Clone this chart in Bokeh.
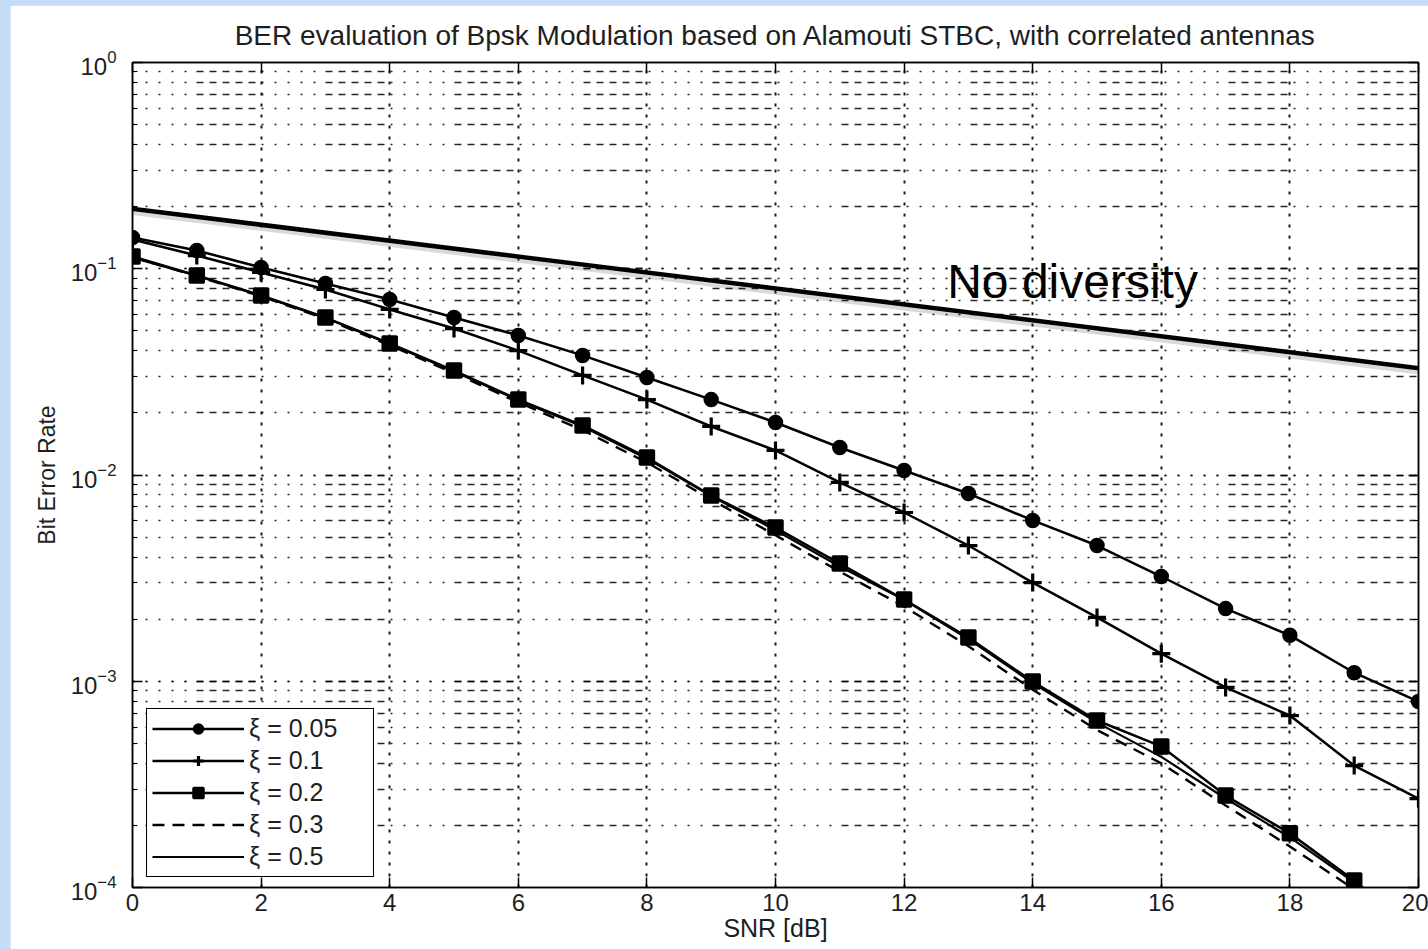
from bokeh.plotting import figure
from bokeh.models import (Range1d, FixedTicker, LogAxis, LinearAxis, Legend,
                          LegendItem, Label, Spacer)
from bokeh.layouts import column, row
from bokeh.embed import file_html
from bokeh.resources import INLINE

# ---------------- data ----------------
snr = list(range(0, 21))
ber_xi_005 = [0.1417, 0.1226, 0.1014, 0.0848, 0.0709, 0.0580, 0.0475, 0.0380,
              0.0297, 0.0232, 0.01797, 0.01359, 0.01051, 0.00813, 0.00602,
              0.00455, 0.00322, 0.00225, 0.00167, 0.00110, 0.000797]
ber_xi_01 = [0.1386, 0.1159, 0.0959, 0.0793, 0.0635, 0.0513, 0.0401, 0.0304,
             0.0232, 0.01719, 0.01315, 0.00920, 0.00658, 0.00455, 0.00301,
             0.00204, 0.00136, 0.000933, 0.000682, 0.000390, 0.000270]
ber_xi_02 = [0.1147, 0.0928, 0.0742, 0.0580, 0.0434, 0.0321, 0.0232, 0.01738,
             0.01216, 0.00795, 0.00556, 0.00372, 0.00249, 0.00163, 0.000997,
             0.000645, 0.000483, 0.000279, 0.000183, 0.000108, 0.000060]
ber_xi_03 = [0.1140, 0.0920, 0.0735, 0.0572, 0.0425, 0.0312, 0.0225, 0.0165,
             0.0115, 0.0076, 0.0051, 0.0034, 0.0023, 0.00148, 0.00091,
             0.00058, 0.00040, 0.00025, 0.000158, 0.000098, 0.000055]
ber_xi_05 = [0.1130, 0.0925, 0.0740, 0.0578, 0.0432, 0.0318, 0.0230, 0.0172,
             0.0120, 0.0079, 0.0054, 0.0036, 0.00248, 0.00160, 0.00098,
             0.00063, 0.00043, 0.00027, 0.000175, 0.000106, 0.000062]
no_div_snr = [-0.16, 20.16]
no_div_ber = [0.198, 0.0325]

series_labels = ["ξ = 0.05", "ξ = 0.1", "ξ = 0.2", "ξ = 0.3", "ξ = 0.5"]
x_ticks = [0, 2, 4, 6, 8, 10, 12, 14, 16, 18, 20]
title_text = "BER evaluation of Bpsk Modulation based on Alamouti STBC, with correlated antennas"
x_label = "SNR [dB]"
y_label = "Bit Error Rate"
note_text = "No diversity"

# ---------------- styling ----------------
FONT = "Liberation Sans"
TXT = "#1e1e1e"
BG_BLUE = "#c6dbf4"
H_DASH = "2 11 2 11 2 11 2 11 2 10 7 6 7 6 7 6 7 6 7 6"

p = figure(width=1418, height=944,
           x_range=Range1d(0, 20), y_range=Range1d(1e-4, 1),
           y_axis_type="log", output_backend="svg", toolbar_location=None,
           min_border_left=122, min_border_right=10,
           min_border_top=57, min_border_bottom=62,
           background_fill_color="white", border_fill_color="white")

p.outline_line_color = "black"
p.outline_line_width = 1.5

p.title.text = title_text
p.title.align = "center"
p.title.text_font = FONT
p.title.text_font_size = "28px"
p.title.text_font_style = "normal"
p.title.text_color = TXT
p.title.standoff = 23

# bottom axis
xa = p.xaxis[0]
xa.ticker = FixedTicker(ticks=x_ticks)
xa.axis_label = x_label
xa.axis_label_text_font = FONT
xa.axis_label_text_font_size = "25px"
xa.axis_label_text_font_style = "normal"
xa.axis_label_text_color = TXT
xa.axis_label_standoff = 0
xa.major_label_text_font = FONT
xa.major_label_text_font_size = "24px"
xa.major_label_text_color = TXT
xa.major_label_standoff = 6
xa.major_tick_in = 10
xa.major_tick_out = 0
xa.minor_tick_line_color = None
xa.axis_line_width = 1.5
xa.major_tick_line_width = 1.5

# left axis
ya = p.yaxis[0]
ya.axis_label = y_label
ya.axis_label_text_font = FONT
ya.axis_label_text_font_size = "23px"
ya.axis_label_text_font_style = "normal"
ya.axis_label_text_color = TXT
ya.axis_label_standoff = 8
ya.major_label_text_font = FONT
ya.major_label_text_font_size = "24px"
ya.major_label_text_color = TXT
ya.major_label_standoff = 16
ya.major_tick_in = 10
ya.major_tick_out = 0
ya.minor_tick_in = 5
ya.minor_tick_out = 0
ya.axis_line_width = 1.5
ya.major_tick_line_width = 1.5
ya.minor_tick_line_width = 1.2

# box ticks on right and top (labels hidden)
ra = LogAxis(major_tick_in=10, major_tick_out=0, minor_tick_in=5, minor_tick_out=0,
             major_label_text_font_size="1px", major_label_text_color=None,
             major_label_standoff=0,
             axis_line_width=1.5, major_tick_line_width=1.5, minor_tick_line_width=1.2)
p.add_layout(ra, "right")
ta = LinearAxis(ticker=FixedTicker(ticks=x_ticks), major_tick_in=10, major_tick_out=0,
                minor_tick_line_color=None, major_label_text_font_size="1px",
                major_label_text_color=None,
                major_label_standoff=0, axis_line_width=1.5, major_tick_line_width=1.5)
p.add_layout(ta, "above")

# grids
p.xgrid.grid_line_color = "black"
p.xgrid.grid_line_dash = "3 8"
p.xgrid.grid_line_width = 2.0
p.xgrid.grid_line_alpha = 0.9
p.ygrid.grid_line_color = "black"
p.ygrid.grid_line_dash = H_DASH
p.ygrid.grid_line_width = 1.6
p.ygrid.grid_line_alpha = 0.85
p.ygrid.minor_grid_line_color = "black"
p.ygrid.minor_grid_line_dash = H_DASH
p.ygrid.minor_grid_line_width = 1.6
p.ygrid.minor_grid_line_alpha = 0.85

# no-diversity reference line (with soft shadow)
shadow_ber = [v * 0.965 for v in no_div_ber]
p.line(no_div_snr, shadow_ber, line_color="black", line_width=6, line_alpha=0.15)
p.line(no_div_snr, no_div_ber, line_color="black", line_width=4.5)

# series
LW = 2.5
l1 = p.line(snr, ber_xi_005, line_color="black", line_width=LW)
m1 = p.scatter(snr, ber_xi_005, marker="circle", size=14, fill_color="black",
               line_color="black", line_width=1.5)
l2 = p.line(snr, ber_xi_01, line_color="black", line_width=LW)
m2 = p.scatter(snr, ber_xi_01, marker="cross", size=18, line_color="black", line_width=3.2)
l3 = p.line(snr, ber_xi_02, line_color="black", line_width=LW)
m3 = p.scatter(snr, ber_xi_02, marker="square", size=14, fill_color="black",
               line_color="black", line_width=2.5)
l4 = p.line(snr, ber_xi_03, line_color="black", line_width=2.4, line_dash="12 8")
l5 = p.line(snr, ber_xi_05, line_color="black", line_width=2.2)

legend = Legend(items=[
    LegendItem(label=series_labels[0], renderers=[l1, m1]),
    LegendItem(label=series_labels[1], renderers=[l2, m2]),
    LegendItem(label=series_labels[2], renderers=[l3, m3]),
    LegendItem(label=series_labels[3], renderers=[l4]),
    LegendItem(label=series_labels[4], renderers=[l5]),
], location=(14, 10))
legend.border_line_color = "black"
legend.border_line_width = 1.8
legend.border_line_alpha = 1.0
legend.background_fill_color = "white"
legend.background_fill_alpha = 1.0
legend.padding = 5
legend.spacing = 3
legend.margin = 0
legend.label_height = 25
legend.glyph_height = 25
legend.glyph_width = 92
legend.label_width = 119
legend.label_standoff = 5
legend.label_text_font = FONT
legend.label_text_font_size = "25px"
legend.label_text_color = TXT
p.add_layout(legend)

note = Label(x=12.67, y=0.117, text=note_text, text_font=FONT,
             text_font_size="48px", text_color="black", text_baseline="top")
p.add_layout(note)

layout = column(Spacer(height=5, width=1428),
                row(Spacer(width=10, height=944), p, spacing=0),
                spacing=0, styles={"background-color": BG_BLUE})

with open("out.html", "w") as f:
    f.write(file_html(layout, INLINE))
